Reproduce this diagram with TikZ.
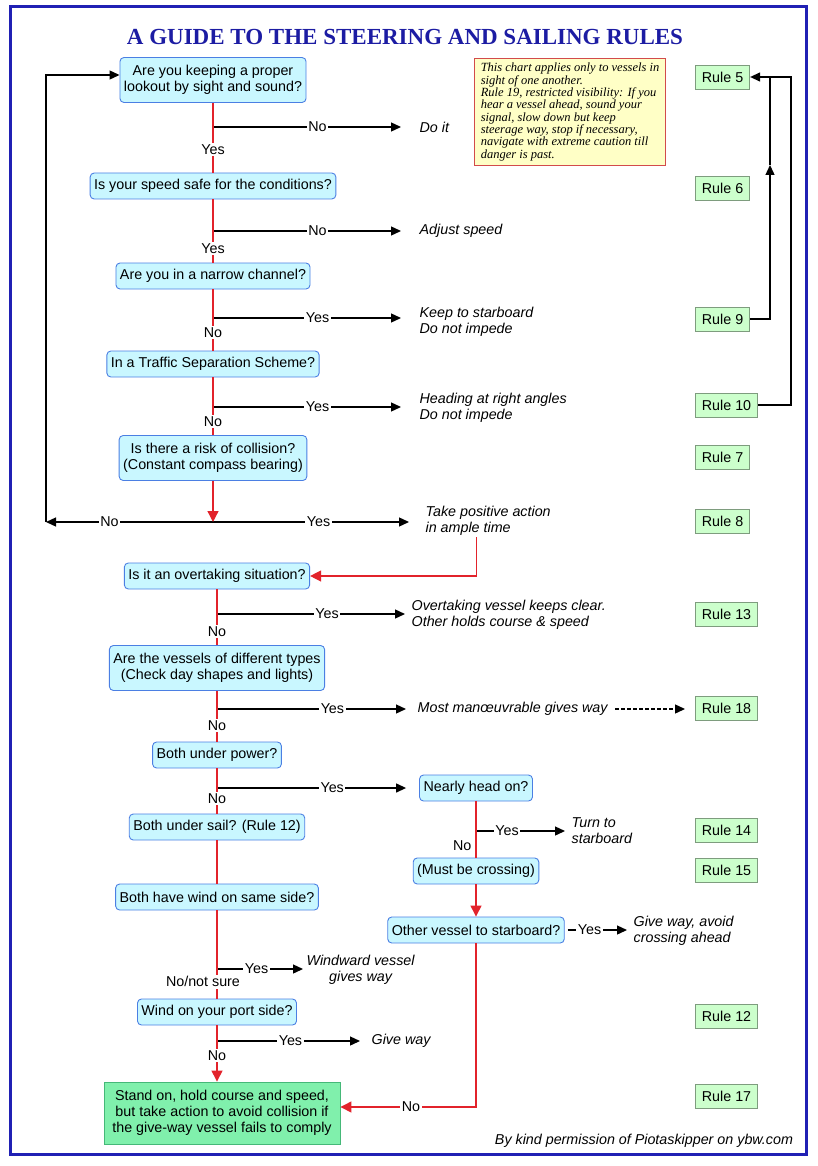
\documentclass[tikz,border=0pt]{standalone}
\usepackage{fontspec}
\setmainfont{Liberation Sans}
\newfontfamily\serifit{Liberation Serif}
\usepackage{tikz}
\usetikzlibrary{positioning}
\usetikzlibrary{calc}
\usetikzlibrary{arrows.meta}
\definecolor{qfill}{HTML}{C9F7FF}
\definecolor{qline}{HTML}{4B7FE3}
\definecolor{redl}{HTML}{E2232B}
\definecolor{rfill}{HTML}{CCFFCC}
\definecolor{rborder}{HTML}{7E9C7E}
\definecolor{finfill}{HTML}{80F0AC}
\definecolor{finline}{HTML}{45B878}
\definecolor{notefill}{HTML}{FFFFC6}
\definecolor{noteline}{HTML}{D24B4B}
\definecolor{navy}{HTML}{1C1CA3}
\definecolor{framec}{HTML}{2020B4}
\newcommand{\fs}{\fontsize{14.3}{16}\selectfont}
\tikzset{
q/.style={
  rectangle,rounded corners=4pt,
  inner xsep=4pt,inner ysep=4pt,
  minimum height=26pt,
  align=center,
  draw=qline,line width=0.9pt,
  fill=qfill
  },
rl/.style={
  rectangle,
  inner xsep=6.5pt,
  minimum height=24pt,
  anchor=west,
  draw=rborder,line width=0.8pt,
  fill=rfill
  },
res/.style={anchor=west,align=left,inner sep=1pt,font=\fs\itshape},
lab/.style={fill=white,inner sep=1.5pt},
redline/.style={draw=redl,line width=1.3pt},
rto/.style={redline,-{Triangle[length=11pt,width=11pt]}}
}

\begin{document}
\begin{tikzpicture}[x=1pt,y=-1pt,>={Triangle[length=10pt,width=9pt]},line width=1.3pt,every node/.style={font=\fs}]
\useasboundingbox (0,0) rectangle (817,1166);
\draw[framec,line width=3pt] (10,7) rectangle (806,1154);
\node[font=\serifit\bfseries\fontsize{23}{26}\selectfont,text=navy] (title) at (405,37) {A GUIDE TO THE STEERING AND SAILING RULES};

\node[q,minimum height=45pt] (q1) at (213,80) {Are you keeping a proper\\lookout by sight and sound?};
\node[q] (q2) at (213,186) {Is your speed safe for the conditions?};
\node[q] (q3) at (213,276) {Are you in a narrow channel?};
\node[q] (q4) at (213,364) {In a Traffic Separation Scheme?};
\node[q,minimum height=45pt] (q5) at (213,458) {Is there a risk of collision?\\(Constant compass bearing)};
\node[q] (q6) at (217,576) {Is it an overtaking situation?};
\node[q,minimum height=45pt] (q7) at (217,668) {Are the vessels of different types\\(Check day shapes and lights)};
\node[q] (q8) at (217,755) {Both under power?};
\node[q] (q9) at (217,827) {Both under sail? (Rule 12)};
\node[q] (q10) at (217,897) {Both have wind on same side?};
\node[q] (q11) at (217,1012) {Wind on your port side?};
\node[q] (q12) at (476,788) {Nearly head on?};
\node[q] (q13) at (476,871) {(Must be crossing)};
\node[q] (q14) at (476,930) {Other vessel to starboard?};
\node[rectangle,draw=finline,line width=0.9pt,fill=finfill,minimum width=236pt,minimum height=62pt,align=center] (fin) at (222,1113) {Stand on, hold course and speed,\\but take action to avoid collision if\\the give-way vessel fails to comply};

\node[rectangle,draw=noteline,line width=1pt,fill=notefill,inner xsep=6pt,inner ysep=5pt,align=left,font=\serifit\itshape\fontsize{12.5}{12.3}\selectfont] (note) at (570,112) {This chart applies only to vessels in\\sight of one another.\\Rule 19, restricted visibility: If you\\hear a vessel ahead, sound your\\signal, slow down but keep\\steerage way, stop if necessary,\\navigate with extreme caution till\\danger is past.};

\node[rl] (r5) at (695,77) {Rule 5};
\node[rl] (r6) at (695,188) {Rule 6};
\node[rl] (r9) at (695,319) {Rule 9};
\node[rl] (r10) at (695,405) {Rule 10};
\node[rl] (r7) at (695,457) {Rule 7};
\node[rl] (r8) at (695,521) {Rule 8};
\node[rl] (r13) at (695,614) {Rule 13};
\node[rl] (r18) at (695,708) {Rule 18};
\node[rl] (r14) at (695,830) {Rule 14};
\node[rl] (r15) at (695,870) {Rule 15};
\node[rl] (r12) at (695,1016) {Rule 12};
\node[rl] (r17) at (695,1096) {Rule 17};

\node[res] (o1) at (418,127) {Do it};
\node[res] (o2) at (418,231) {Adjust speed};
\node[res] (o3) at (418,322) {Keep to starboard\\Do not impede};
\node[res] (o4) at (418,408) {Heading at right angles\\Do not impede};
\node[res] (o5) at (424,521) {Take positive action\\in ample time};
\node[res] (o6) at (410,615) {Overtaking vessel keeps clear.\\Other holds course \& speed};
\node[res] (o7) at (416,709) {Most manœuvrable gives way};
\node[res] (o9) at (570,831) {Turn to\\starboard};
\node[res] (o10) at (632,931) {Give way, avoid\\crossing ahead};
\node[res,align=center] (o11) at (305,970) {Windward vessel\\gives way};
\node[res] (o12) at (370,1041) {Give way};
\node[font=\fs\itshape,anchor=east] (credit) at (797,1141) {By kind permission of Piotaskipper on ybw.com};

\coordinate (b1) at (213,127);
\coordinate (b2) at (213,231);
\coordinate (b3) at (213,318);
\coordinate (b4) at (213,407);
\coordinate (j) at (213,522);
\coordinate (loop) at (46,522);
\coordinate (b6) at (217,614);
\coordinate (b7) at (217,709);
\coordinate (b8) at (217,788);
\coordinate (b9) at (476,831);
\coordinate (b11) at (217,969);
\coordinate (b12) at (217,1041);
\coordinate (up) at (770,165);

\draw[->,shorten >=17pt] (b1) -- node[lab,pos=.51] {No} (b1 -| o1.west);
\draw[->,shorten >=17pt] (b2) -- node[lab,pos=.51] {No} (b2 -| o2.west);
\draw[->,shorten >=17pt] (b3) -- node[lab,pos=.51] {Yes} (b3 -| o3.west);
\draw[->,shorten >=17pt] (b4) -- node[lab,pos=.51] {Yes} (b4 -| o4.west);
\draw[->,shorten >=15pt] (j) -- node[lab,pos=.5] {Yes} (j -| o5.west);
\draw[->] (j) -- node[lab,pos=.62] {No} (loop);
\draw[->] (loop) |- ([yshift=5pt]q1.west);
\draw[->,shorten >=5pt] (b6) -- node[lab,pos=.57] {Yes} (b6 -| o6.west);
\draw[->,shorten >=10pt] (b7) -- node[lab,pos=.58] {Yes} (b7 -| o7.west);
\draw[->,shorten >=13pt] (b8) -- node[lab,pos=.57] {Yes} (b8 -| q12.west);
\draw[->,shorten >=5pt] (b9) -- node[lab,pos=.33] {Yes} (b9 -| o9.west);
\draw[->,shorten <=3pt,shorten >=5pt] (q14.east) -- node[lab,pos=.37] {Yes} (q14.east -| o10.west);
\draw[->,shorten >=2pt] (b11) -- node[lab,pos=.45] {Yes} (b11 -| o11.west);
\draw[->,shorten >=10pt] (b12) -- node[lab,pos=.48] {Yes} (b12 -| o12.west);
\draw[->,dash pattern=on 4pt off 2pt,shorten <=6pt,shorten >=10pt] (o7.east) -- (o7.east -| r18.west);

\draw[->] (r9.east) -| (up);
\draw (up) -- (up |- r5.east);
\draw[->] (r10.east) -- ++(33,0) |- (r5.east);

\path[redline]
  (q1) edge node[lab,pos=.67] {Yes} (q2)
  (q2) edge node[lab,pos=.78] {Yes} (q3)
  (q3) edge node[lab,pos=.71] {No} (q4)
  (q4) edge node[lab,pos=.76] {No} (q5)
  (q6) edge node[lab,pos=.75] {No} (q7)
  (q7) edge node[lab,pos=.69] {No} (q8)
  (q8) edge node[lab,pos=.67] {No} (q9)
  (q9) edge (q10)
  (q10) edge node[lab,pos=.81,xshift=-14pt] {No/not sure} (q11)
  (q12) edge node[left,pos=.78,inner sep=4pt] {No} (q13)
  ;
\draw[rto] (q5) -- (j);
\draw[rto] ([xshift=-12pt]o5.south) |- (q6);
\draw[rto] (q11) -- node[lab,pos=.53] {No} (q11 |- fin.north);
\draw[rto] (q13) -- (q14);
\draw[rto] (q14) |- node[lab,pos=.74] {No} ([yshift=6pt]fin.east);
\end{tikzpicture}
\end{document}
